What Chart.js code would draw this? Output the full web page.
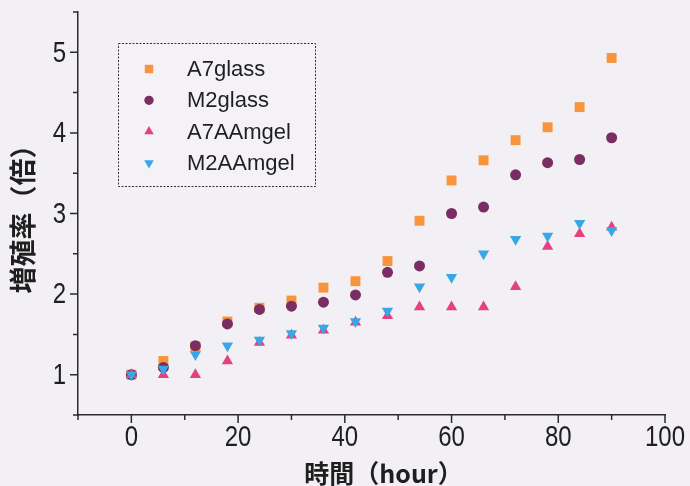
<!DOCTYPE html>
<html>
<head>
<meta charset="utf-8">
<script src="https://cdn.jsdelivr.net/npm/chart.js@4/dist/chart.umd.min.js"></script>
<style>
  html, body { margin: 0; padding: 0; background: #f2f0f4; }
  #wrap { width: 690px; height: 486px; }
</style>
</head>
<body>
<div id="wrap"><canvas id="growthChart" width="690" height="486"></canvas></div>
<script>
// sampling times (hour)
const hours = [0, 6, 12, 18, 24, 30, 36, 42, 48, 54, 60, 66, 72, 78, 84, 90];

// growth rate (times)
const a7glass   = [1.00, 1.17, 1.35, 1.66, 1.83, 1.92, 2.08, 2.16, 2.41, 2.91, 3.41, 3.66, 3.91, 4.07, 4.32, 4.93];
const m2glass   = [1.00, 1.09, 1.36, 1.63, 1.81, 1.85, 1.90, 1.99, 2.27, 2.35, 3.00, 3.08, 3.48, 3.63, 3.67, 3.94];
const a7aamgel  = [1.00, 1.00, 1.00, 1.17, 1.40, 1.49, 1.55, 1.65, 1.73, 1.84, 1.84, 1.84, 2.09, 2.59, 2.75, 2.83];
const m2aamgel  = [1.00, 1.07, 1.25, 1.36, 1.43, 1.51, 1.58, 1.66, 1.79, 2.09, 2.21, 2.50, 2.68, 2.72, 2.88, 2.79];

const seriesNames = ['A7glass', 'M2glass', 'A7AAmgel', 'M2AAmgel'];
const xTickLabels = [0, 20, 40, 60, 80, 100];
const yTickLabels = [1, 2, 3, 4, 5];
const xTitle = '時間（hour）';
const yTitle = '増殖率（倍）';

const axisColor = '#2b2b2b';
const textColor = '#1f1f1f';

function toPoints(values) {
    return values.map((v, i) => ({ x: hours[i], y: v }));
}

// paint the paper colour behind everything
const paperPlugin = {
    id: 'paper',
    beforeDraw(chart) {
        const ctx = chart.ctx;
        ctx.save();
        ctx.fillStyle = '#f2f0f4';
        ctx.fillRect(0, 0, chart.width, chart.height);
        ctx.restore();
    }
};

// narrow tick numbers, outward tick marks and the two axis titles
const axisDecorPlugin = {
    id: 'axisDecor',
    afterDraw(chart) {
        const ctx = chart.ctx;
        const area = chart.chartArea;
        const xs = chart.scales.x;
        const ys = chart.scales.y;
        ctx.save();

        // tick marks, long on labelled ticks
        ctx.strokeStyle = axisColor;
        ctx.lineWidth = 1.5;
        ctx.beginPath();
        xs.ticks.forEach(t => {
            const px = xs.getPixelForValue(t.value);
            const len = xTickLabels.includes(t.value) ? 8 : 5;
            ctx.moveTo(px, area.bottom);
            ctx.lineTo(px, area.bottom + len);
        });
        ys.ticks.forEach(t => {
            const py = ys.getPixelForValue(t.value);
            const len = yTickLabels.includes(t.value) ? 8 : 5;
            ctx.moveTo(area.left, py);
            ctx.lineTo(area.left - len, py);
        });
        ctx.stroke();

        // tick numbers in a condensed look
        const squeeze = 0.8;
        ctx.fillStyle = textColor;
        ctx.font = "30px 'Liberation Sans', Arial, sans-serif";
        ctx.textBaseline = 'middle';
        ctx.textAlign = 'center';
        xTickLabels.forEach(v => {
            const px = xs.getPixelForValue(v);
            ctx.save();
            ctx.translate(px, area.bottom + 23);
            ctx.scale(squeeze, 1);
            ctx.fillText(String(v), 0, 0);
            ctx.restore();
        });
        ctx.textAlign = 'right';
        yTickLabels.forEach(v => {
            const py = ys.getPixelForValue(v);
            ctx.save();
            ctx.translate(area.left - 12, py + 1);
            ctx.scale(squeeze, 1);
            ctx.fillText(String(v), 0, 0);
            ctx.restore();
        });

        // axis titles
        ctx.textAlign = 'center';
        ctx.font = "bold 25px 'Noto Sans CJK JP', sans-serif";
        ctx.fillText(xTitle, (area.left + area.right) / 2 + 12, 473);

        ctx.save();
        ctx.translate(23, (area.top + area.bottom) / 2 - 1);
        ctx.rotate(-Math.PI / 2);
        ctx.font = "bold 27px 'Noto Sans CJK JP', sans-serif";
        ctx.fillText(yTitle, 0, 0);
        ctx.restore();

        ctx.restore();
    }
};

// legend box sitting inside the plot
const boxLegendPlugin = {
    id: 'boxLegend',
    afterDraw(chart) {
        const ctx = chart.ctx;
        const left = 118, top = 43, width = 197, height = 143;
        ctx.save();
        ctx.fillStyle = '#f4f2f6';
        ctx.fillRect(left, top, width, height);
        ctx.setLineDash([2, 1.5]);
        ctx.strokeStyle = '#333';
        ctx.lineWidth = 1;
        ctx.strokeRect(left + 0.5, top + 0.5, width, height);
        ctx.setLineDash([]);
        ctx.font = "22px 'Liberation Sans', Arial, sans-serif";
        ctx.textBaseline = 'middle';
        ctx.textAlign = 'left';
        chart.data.datasets.forEach((ds, i) => {
            const y = 69 + i * 31.3;
            ctx.fillStyle = ds.backgroundColor;
            ctx.strokeStyle = ds.borderColor;
            Chart.helpers.drawPoint(ctx, {
                pointStyle: ds.pointStyle,
                radius: ds.pointRadius * 0.85,
                rotation: ds.pointRotation || 0,
                borderWidth: 0
            }, 149, y);
            ctx.fillStyle = '#1f1f1f';
            ctx.fillText(ds.label, 187, y + 1);
        });
        ctx.restore();
    }
};

const ctx = document.getElementById('growthChart').getContext('2d');
new Chart(ctx, {
    type: 'scatter',
    data: {
        datasets: [
            {
                label: seriesNames[0],
                data: toPoints(a7glass),
                pointStyle: 'rect',
                pointRadius: 7,
                backgroundColor: '#f7943c',
                borderColor: '#f7943c',
                borderWidth: 0,
                order: 3
            },
            {
                label: seriesNames[1],
                data: toPoints(m2glass),
                pointStyle: 'circle',
                pointRadius: 5.5,
                backgroundColor: '#7a2d63',
                borderColor: '#7a2d63',
                borderWidth: 0,
                order: 2
            },
            {
                label: seriesNames[2],
                data: toPoints(a7aamgel),
                pointStyle: 'triangle',
                pointRadius: 6.5,
                backgroundColor: '#e5417f',
                borderColor: '#e5417f',
                borderWidth: 0,
                order: 1
            },
            {
                label: seriesNames[3],
                data: toPoints(m2aamgel),
                pointStyle: 'triangle',
                pointRotation: 180,
                pointRadius: 6.5,
                backgroundColor: '#39a7e6',
                borderColor: '#39a7e6',
                borderWidth: 0,
                order: 0
            }
        ]
    },
    options: {
        responsive: false,
        animation: false,
        layout: {
            padding: { top: 12, right: 25, left: 0, bottom: 0 }
        },
        plugins: {
            legend: { display: false },
            tooltip: { enabled: false }
        },
        scales: {
            x: {
                type: 'linear',
                min: -10,
                max: 100,
                afterFit(scale) {
                    scale.height = 71;
                    scale.paddingLeft = 0;
                    scale.paddingRight = 0;
                },
                ticks: { stepSize: 10, autoSkip: false, display: false },
                grid: { display: true, drawOnChartArea: false, drawTicks: false },
                border: { display: true, color: axisColor, width: 1.5 }
            },
            y: {
                type: 'linear',
                min: 0.5,
                max: 5.5,
                afterFit(scale) {
                    scale.width = 78;
                    scale.paddingTop = 0;
                    scale.paddingBottom = 0;
                },
                ticks: { stepSize: 0.5, autoSkip: false, display: false },
                grid: { display: true, drawOnChartArea: false, drawTicks: false },
                border: { display: true, color: axisColor, width: 1.5 }
            }
        }
    },
    plugins: [paperPlugin, axisDecorPlugin, boxLegendPlugin]
});
</script>
</body>
</html>
